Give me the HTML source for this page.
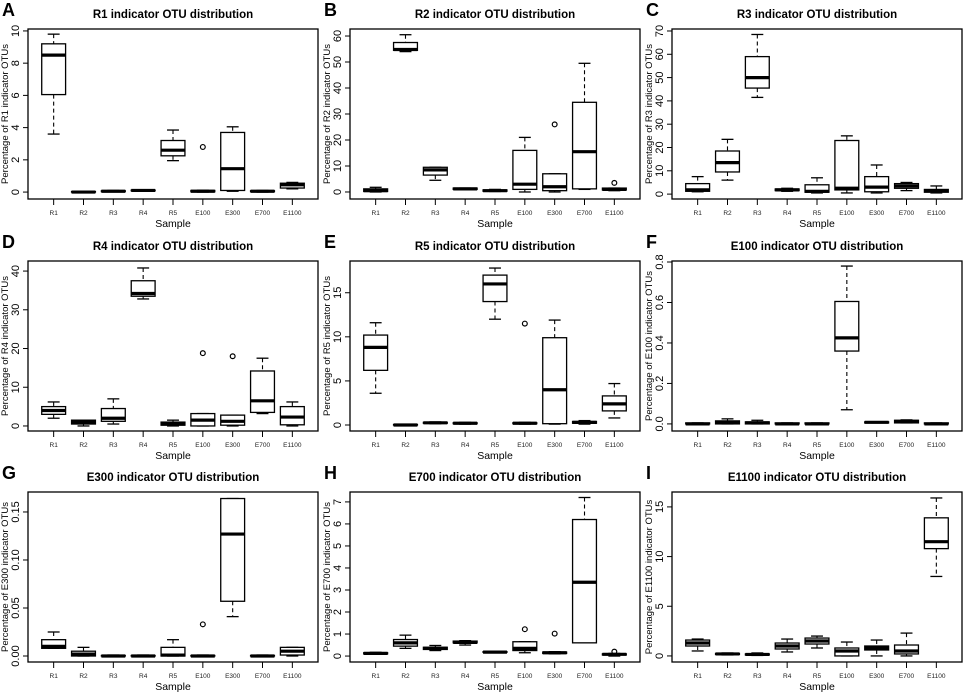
<!DOCTYPE html>
<html><head><meta charset="utf-8"><style>
body{margin:0;background:#fff;}
svg{display:block;font-family:"Liberation Sans",Arial,sans-serif;}
</style></head><body>
<svg id="fig" width="964" height="693" viewBox="0 0 964 693"></svg>
<script>
const categories = ["R1","R2","R3","R4","R5","E100","E300","E700","E1100"];
const panelLetters = ["A","B","C","D","E","F","G","H","I"];
const panelGroups = ["R1","R2","R3","R4","R5","E100","E300","E700","E1100"];
// each box: [lower whisker, q1, median, q3, upper whisker]
const boxesA = [[3.6,6.05,8.5,9.2,9.8],[-0.02,0,0,0.03,0.05],[0.02,0.03,0.05,0.08,0.1],[0.05,0.08,0.1,0.12,0.15],[1.95,2.25,2.6,3.2,3.85],[0,0.02,0.05,0.1,0.12],[0.05,0.1,1.45,3.7,4.05],[0,0.03,0.05,0.08,0.1],[0.2,0.25,0.45,0.55,0.6]];
const boxesB = [[0,0.2,0.5,1.2,1.8],[54,54.5,54.8,57.5,60.5],[4.5,6.5,8.5,9.5,9.5],[1,1,1.2,1.5,1.5],[0.2,0.3,0.5,0.8,1],[0,1,3,16,21],[0,0.5,2,7,7],[1,1.2,15.5,34.5,49.5],[0.5,0.8,1,1.5,1.5]];
const boxesC = [[1,1.2,1.8,4.5,7.5],[6,9.5,13.5,18.5,23.5],[41.5,45.5,50,59,68.5],[1.2,1.5,1.8,2.2,2.5],[0.5,0.8,1.2,4,7],[0.5,1.8,2.5,23,25],[0.5,1,3,7.5,12.5],[1.5,2.5,3.5,4.5,5],[0.5,0.8,1.5,2,3.5]];
const boxesD = [[2,3,4,5,6.2],[0,0.5,1,1.5,1.5],[0.5,1.2,2,4.5,7],[32.8,33.5,34.2,37.5,40.8],[0,0.2,0.5,1,1.5],[0,0,1.5,3.2,3.2],[0,0.2,1.2,2.8,2.8],[3.2,3.5,6.5,14.2,17.5],[0,0.3,2.3,5,6.2]];
const boxesE = [[3.6,6.2,8.8,10.2,11.6],[0,0,0,0.05,0.05],[0.15,0.2,0.25,0.3,0.35],[0.1,0.15,0.2,0.25,0.3],[12,14,16,17,17.8],[0.1,0.15,0.2,0.25,0.3],[0.1,0.15,4,9.9,11.9],[0.1,0.2,0.3,0.4,0.5],[0.8,1.6,2.4,3.3,4.7]];
const boxesF = [[0,0,0,0.005,0.005],[0,0,0.005,0.015,0.025],[0,0,0.005,0.01,0.018],[0,0,0,0.005,0.005],[0,0,0,0.005,0.005],[0.07,0.36,0.425,0.605,0.78],[0.005,0.005,0.008,0.01,0.01],[0.005,0.005,0.012,0.018,0.02],[0,0,0,0.005,0.005]];
const boxesG = [[0.008,0.008,0.01,0.017,0.025],[0,0,0.002,0.005,0.009],[0,0,0,0.0005,0.001],[0,0,0,0.0005,0.001],[0,0,0.001,0.009,0.017],[0,0,0,0.0005,0.001],[0.041,0.057,0.127,0.164,0.164],[0,0,0,0.0005,0.001],[0,0.001,0.005,0.009,0.009]];
const boxesH = [[0.08,0.1,0.12,0.15,0.17],[0.35,0.45,0.6,0.75,0.95],[0.25,0.3,0.35,0.4,0.48],[0.5,0.6,0.62,0.68,0.7],[0.15,0.17,0.18,0.2,0.22],[0.15,0.25,0.35,0.65,0.65],[0.1,0.12,0.15,0.18,0.2],[0.6,0.6,3.35,6.2,7.2],[0,0.05,0.08,0.1,0.12]];
const boxesI = [[0.5,1,1.3,1.6,1.7],[0.1,0.15,0.2,0.25,0.3],[0.05,0.1,0.15,0.2,0.3],[0.4,0.7,1,1.3,1.7],[0.8,1.2,1.5,1.8,2],[0,0,0.5,0.8,1.4],[0,0.6,0.8,1,1.6],[0,0.2,0.5,1.1,2.3],[8,10.8,11.5,13.9,15.9]];
// outliers: [category index, value]
const outliersA = [[5,2.8]];
const outliersB = [[6,26],[8,3.5]];
const outliersC = [];
const outliersD = [[5,18.8],[6,18]];
const outliersE = [[5,11.5]];
const outliersF = [];
const outliersG = [[5,0.033]];
const outliersH = [[5,1.22],[6,1.02],[8,0.2]];
const outliersI = [];
const ticksA = ["0","2","4","6","8","10"];
const ticksB = ["0","10","20","30","40","50","60"];
const ticksC = ["0","10","20","30","40","50","60","70"];
const ticksD = ["0","10","20","30","40"];
const ticksE = ["0","5","10","15"];
const ticksF = ["0.0","0.2","0.4","0.6","0.8"];
const ticksG = ["0.00","0.05","0.10","0.15"];
const ticksH = ["0","1","2","3","4","5","6","7"];
const ticksI = ["0","5","10","15"];
const domains = [[-0.43,10.12],[-2.7,62.7],[-2.1,70.85],[-1.3,42.6],[-0.68,18.6],[-0.035,0.805],[-0.00625,0.1708],[-0.27,7.45],[-0.61,16.5]];

const allBoxes=[boxesA,boxesB,boxesC,boxesD,boxesE,boxesF,boxesG,boxesH,boxesI];
const allOut=[outliersA,outliersB,outliersC,outliersD,outliersE,outliersF,outliersG,outliersH,outliersI];
const allTicks=[ticksA,ticksB,ticksC,ticksD,ticksE,ticksF,ticksG,ticksH,ticksI];
const colX0=[28,350,672], rowY0=[29,261,492], W=290, H=170;
const NS="http://www.w3.org/2000/svg";
const svg=document.getElementById('fig');
function mk(tag,attrs,parent,text){const e=document.createElementNS(NS,tag);for(const k in attrs)e.setAttribute(k,attrs[k]);if(text!==undefined)e.textContent=text;(parent||svg).appendChild(e);return e;}

for(let p=0;p<9;p++){
  const x0=colX0[p%3], y0=rowY0[Math.floor(p/3)];
  const g=mk('g',{});
  
  
  const [dmin,dmax]=domains[p];
  const ys=v=>y0+H-(v-dmin)/(dmax-dmin)*H;
  const xs=i=>x0+(i+1-0.14)/9.72*W;
  const bw=0.8/9.72*W;
  const letter=mk('text',{x:x0-26,y:y0-13,'font-size':18,'font-weight':'bold'},g,panelLetters[p]);
  
  
  const title=mk('text',{x:x0+W/2,y:y0-11,'font-size':11.5,'font-weight':'bold','text-anchor':'middle'},g,panelGroups[p]+' indicator OTU distribution');
  
  
  const frame=mk('rect',{x:x0,y:y0,width:W,height:H,fill:'none',stroke:'#000','stroke-width':1.3},g);
  
  
  const ytitle=mk('text',{transform:`translate(${x0-20},${y0+H/2}) rotate(-90)`,'font-size':9.5,'text-anchor':'middle'},g,'Percentage of '+panelGroups[p]+' indicator OTUs');
  
  
  const xt=mk('text',{x:x0+W/2,y:y0+H+28,'font-size':10.5,'text-anchor':'middle'},g,'Sample');
  
  
  const tk=allTicks[p];
  mk('line',{x1:x0,x2:x0,y1:ys(parseFloat(tk[0])),y2:ys(parseFloat(tk[tk.length-1])),stroke:'#000','stroke-width':1},g);
  tk.forEach(t=>{const v=parseFloat(t),y=ys(v);
    mk('line',{x1:x0-5,x2:x0,y1:y,y2:y,stroke:'#000','stroke-width':1},g);
    const lab=mk('text',{transform:`translate(${x0-12},${y}) rotate(-90)`,'font-size':11,'text-anchor':'middle','dominant-baseline':'central'},g,t);
    
    
  });
  mk('line',{x1:xs(0),x2:xs(8),y1:y0+H,y2:y0+H,stroke:'#000','stroke-width':1},g);
  categories.forEach((c,i)=>{const x=xs(i);
    mk('line',{x1:x,x2:x,y1:y0+H,y2:y0+H+6,stroke:'#000','stroke-width':1},g);
    const lab=mk('text',{x:x,y:y0+H+16,'font-size':6.5,'text-anchor':'middle',fill:'#222'},g,c);
    
    
  });
  allBoxes[p].forEach((b,i)=>{
    const x=xs(i),[lo,q1,md,q3,hi]=b;
    const bg=mk('g',{},g);
    
    
    mk('line',{x1:x,x2:x,y1:ys(hi),y2:ys(q3),stroke:'#000','stroke-width':1.1,'stroke-dasharray':'4,3'},bg);
    mk('line',{x1:x,x2:x,y1:ys(q1),y2:ys(lo),stroke:'#000','stroke-width':1.1,'stroke-dasharray':'4,3'},bg);
    mk('line',{x1:x-bw/4,x2:x+bw/4,y1:ys(hi),y2:ys(hi),stroke:'#000','stroke-width':1.3},bg);
    mk('line',{x1:x-bw/4,x2:x+bw/4,y1:ys(lo),y2:ys(lo),stroke:'#000','stroke-width':1.3},bg);
    const yt=ys(q3),yb=ys(q1);
    mk('rect',{x:x-bw/2,y:yt,width:bw,height:Math.max(yb-yt,0.5),fill:'#fff',stroke:'#000','stroke-width':1.3},bg);
    mk('line',{x1:x-bw/2,x2:x+bw/2,y1:ys(md),y2:ys(md),stroke:'#000','stroke-width':3.2},bg);
  });
  allOut[p].forEach(o=>{
    const c=mk('circle',{cx:xs(o[0]),cy:ys(o[1]),r:2.4,fill:'none',stroke:'#000','stroke-width':1.2},g);
    
    
  });
}
</script>
</body></html>
